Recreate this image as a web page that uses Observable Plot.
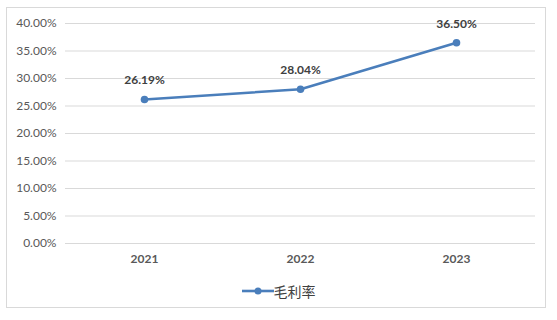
<!DOCTYPE html>
<html>
<head>
<meta charset="utf-8">
<script src="https://cdn.jsdelivr.net/npm/d3@7"></script>
<script src="https://cdn.jsdelivr.net/npm/@observablehq/plot@0.6"></script>
<style>
  body { margin: 0; background: #fff; }
  #wrap { position: relative; width: 557px; height: 320px; overflow: hidden; }
  #frame { position: absolute; left: 6px; top: 7px; width: 540px; height: 301px; border: 1px solid #d9d9d9; box-sizing: border-box; }
  #chart { position: absolute; left: 0; top: 0; }
  #legend { position: absolute; left: 0; top: 280px; width: 557px; text-align: center; font-family: "Noto Sans CJK SC", sans-serif; font-size: 14px; color: #404040; }
  #legend span { display: inline-flex; align-items: center; gap: 0px; }
</style>
</head>
<body>
<div id="wrap">
  <div id="frame"></div>
  <div id="chart"></div>
  <div id="legend"></div>
</div>
<script>
const years = ["2021", "2022", "2023"];
const grossMargin = [0.2619, 0.2804, 0.3650];
const seriesName = "毛利率";
const yTicks = [0, 0.05, 0.10, 0.15, 0.20, 0.25, 0.30, 0.35, 0.40];

const data = years.map((y, i) => ({year: y, value: grossMargin[i]}));
const lineColor = "#4A7EBB";
const pct = d => (d * 100).toFixed(2) + "%";

const plot = Plot.plot({
  width: 557,
  height: 270,
  marginLeft: 65,
  marginRight: 22,
  marginTop: 23,
  marginBottom: 27,
  style: {fontFamily: "Lato, sans-serif", fontSize: "12px", background: "transparent"},
  x: {type: "point", domain: years, padding: 0.5, label: null},
  y: {domain: [0, 0.4], label: null},
  marks: [
    Plot.gridY(yTicks, {stroke: "#d9d9d9", strokeOpacity: 1, strokeWidth: 1}),
    Plot.axisY(yTicks, {tickSize: 0, tickPadding: 9, tickFormat: pct, fill: "#595959", label: null}),
    Plot.axisX({tickSize: 0, tickPadding: 11, fill: "#595959", fontWeight: "bold", label: null}),
    Plot.line(data, {x: "year", y: "value", stroke: lineColor, strokeWidth: 2.6}),
    Plot.dot(data, {x: "year", y: "value", fill: lineColor, r: 3.8}),
    Plot.text(data, {x: "year", y: "value", text: d => pct(d.value), dy: -19, fill: "#404040", fontWeight: "bold", fontSize: 12})
  ]
});
document.getElementById("chart").appendChild(plot);

const legend = document.getElementById("legend");
legend.innerHTML = `<span><svg width="32" height="10"><line x1="0" y1="5" x2="32" y2="5" stroke="${lineColor}" stroke-width="2.6"/><circle cx="16" cy="5" r="3.5" fill="${lineColor}"/></svg>${seriesName}</span>`;
</script>
</body>
</html>
